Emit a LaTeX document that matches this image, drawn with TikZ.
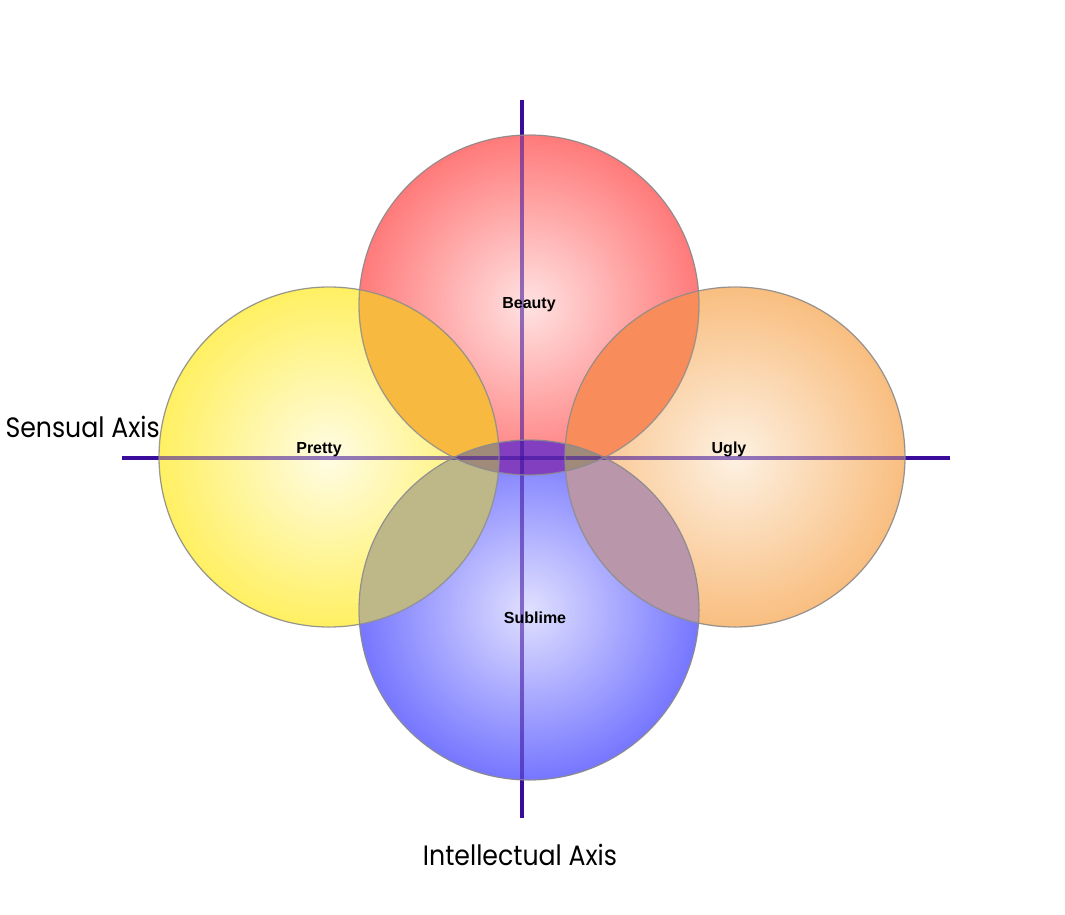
\documentclass[tikz,border=0pt]{standalone}
\usepackage{fontspec}
\setmainfont{Liberation Sans}
\newfontfamily\axisfont{Poppins}[FakeStretch=0.9]
\usepackage{xcolor}
\usetikzlibrary{positioning}

\definecolor{axisline}{HTML}{3A0C9C}
\definecolor{rim}{HTML}{8C8C8C}
% circle colours
\definecolor{redIn}{HTML}{FFE2E2}
\definecolor{redOut}{HTML}{FF7A7A}
\definecolor{yelIn}{HTML}{FFFCE4}
\definecolor{yelOut}{HTML}{FFF062}
\definecolor{orgIn}{HTML}{FDF1E2}
\definecolor{orgOut}{HTML}{F9BE80}
\definecolor{bluIn}{HTML}{E0E0FF}
\definecolor{bluOut}{HTML}{7676FF}
% lens colours
\definecolor{lensPB}{HTML}{F8B940}
\definecolor{lensPS}{HTML}{BEB888}
\definecolor{lensUB}{HTML}{F88C5A}
\definecolor{lensUS}{HTML}{B996AA}
\definecolor{lensBS}{HTML}{8240C0}
\definecolor{lensTri}{HTML}{A08A7A}

\tikzset{
  bubble/.style n args={2}{shading=radial, inner color=#1, outer color=#2},
  axis/.style={draw=axisline, line width=4pt},
  tag/.style={font=\bfseries\fontsize{16}{19}\selectfont, anchor=base},
  axistag/.style={font=\axisfont\fontsize{28}{32}\selectfont},
}

\begin{document}
\begin{tikzpicture}[x=1pt, y=-1pt]
    \useasboundingbox[fill=white] (0,0) rectangle (1065,915);
    \def\rad{170}
    % centres and axis ends ---------------------------------------------
    \coordinate (beauty)  at (529,305);
    \coordinate (pretty)  at (329,457);
    \coordinate (ugly)    at (735,457);
    \coordinate (sublime) at (529,610);
    \coordinate (west)  at (122,458);
    \coordinate (east)  at (950,458);
    \coordinate (north) at (522,100);
    \coordinate (south) at (522,818);
    % axes, under the circles --------------------------------------------
    \draw[axis] (west) -- (east);
    \draw[axis] (north) -- (south);
    % circles ------------------------------------------------------------
    \fill[bubble={redIn}{redOut}] (beauty)  circle[radius=\rad];
    \fill[bubble={yelIn}{yelOut}] (pretty)  circle[radius=\rad];
    \fill[bubble={orgIn}{orgOut}] (ugly)    circle[radius=\rad];
    \fill[bubble={bluIn}{bluOut}] (sublime) circle[radius=\rad];
    % overlaps -----------------------------------------------------------
    \foreach \a/\b/\c in {pretty/beauty/lensPB, pretty/sublime/lensPS,
                          ugly/beauty/lensUB, ugly/sublime/lensUS,
                          beauty/sublime/lensBS}{
        \begin{scope}
            \clip (\a) circle[radius=\rad];
            \fill[\c] (\b) circle[radius=\rad];
        \end{scope}
    }
    \foreach \a in {pretty, ugly}{
        \begin{scope}
            \clip (\a) circle[radius=\rad];
            \clip (beauty) circle[radius=\rad];
            \fill[lensTri] (sublime) circle[radius=\rad];
        \end{scope}
    }
    % axes seen through the circles --------------------------------------
    \draw[axis, draw opacity=.55] (west) -- (east);
    \draw[axis, draw opacity=.55] (north) -- (south);
    % rims ---------------------------------------------------------------
    \foreach \c in {beauty, pretty, ugly, sublime}
        \draw[rim, line width=1.3pt, draw opacity=.8] (\c) circle[radius=\rad];
    % labels -------------------------------------------------------------
    \node[tag] (tbeauty)  at (529,308) {Beauty};
    \node[tag] (tpretty)  at (319,453) {Pretty};
    \node[tag] (tugly)    at (729,453) {Ugly};
    \node[tag] (tsublime) at (535,623) {Sublime};
    \node[axistag, anchor=base west] (tsensual) at (2,437) {Sensual Axis};
    \node[axistag, anchor=base] (tintellect) at (520,865) {Intellectual Axis};
\end{tikzpicture}
\end{document}
